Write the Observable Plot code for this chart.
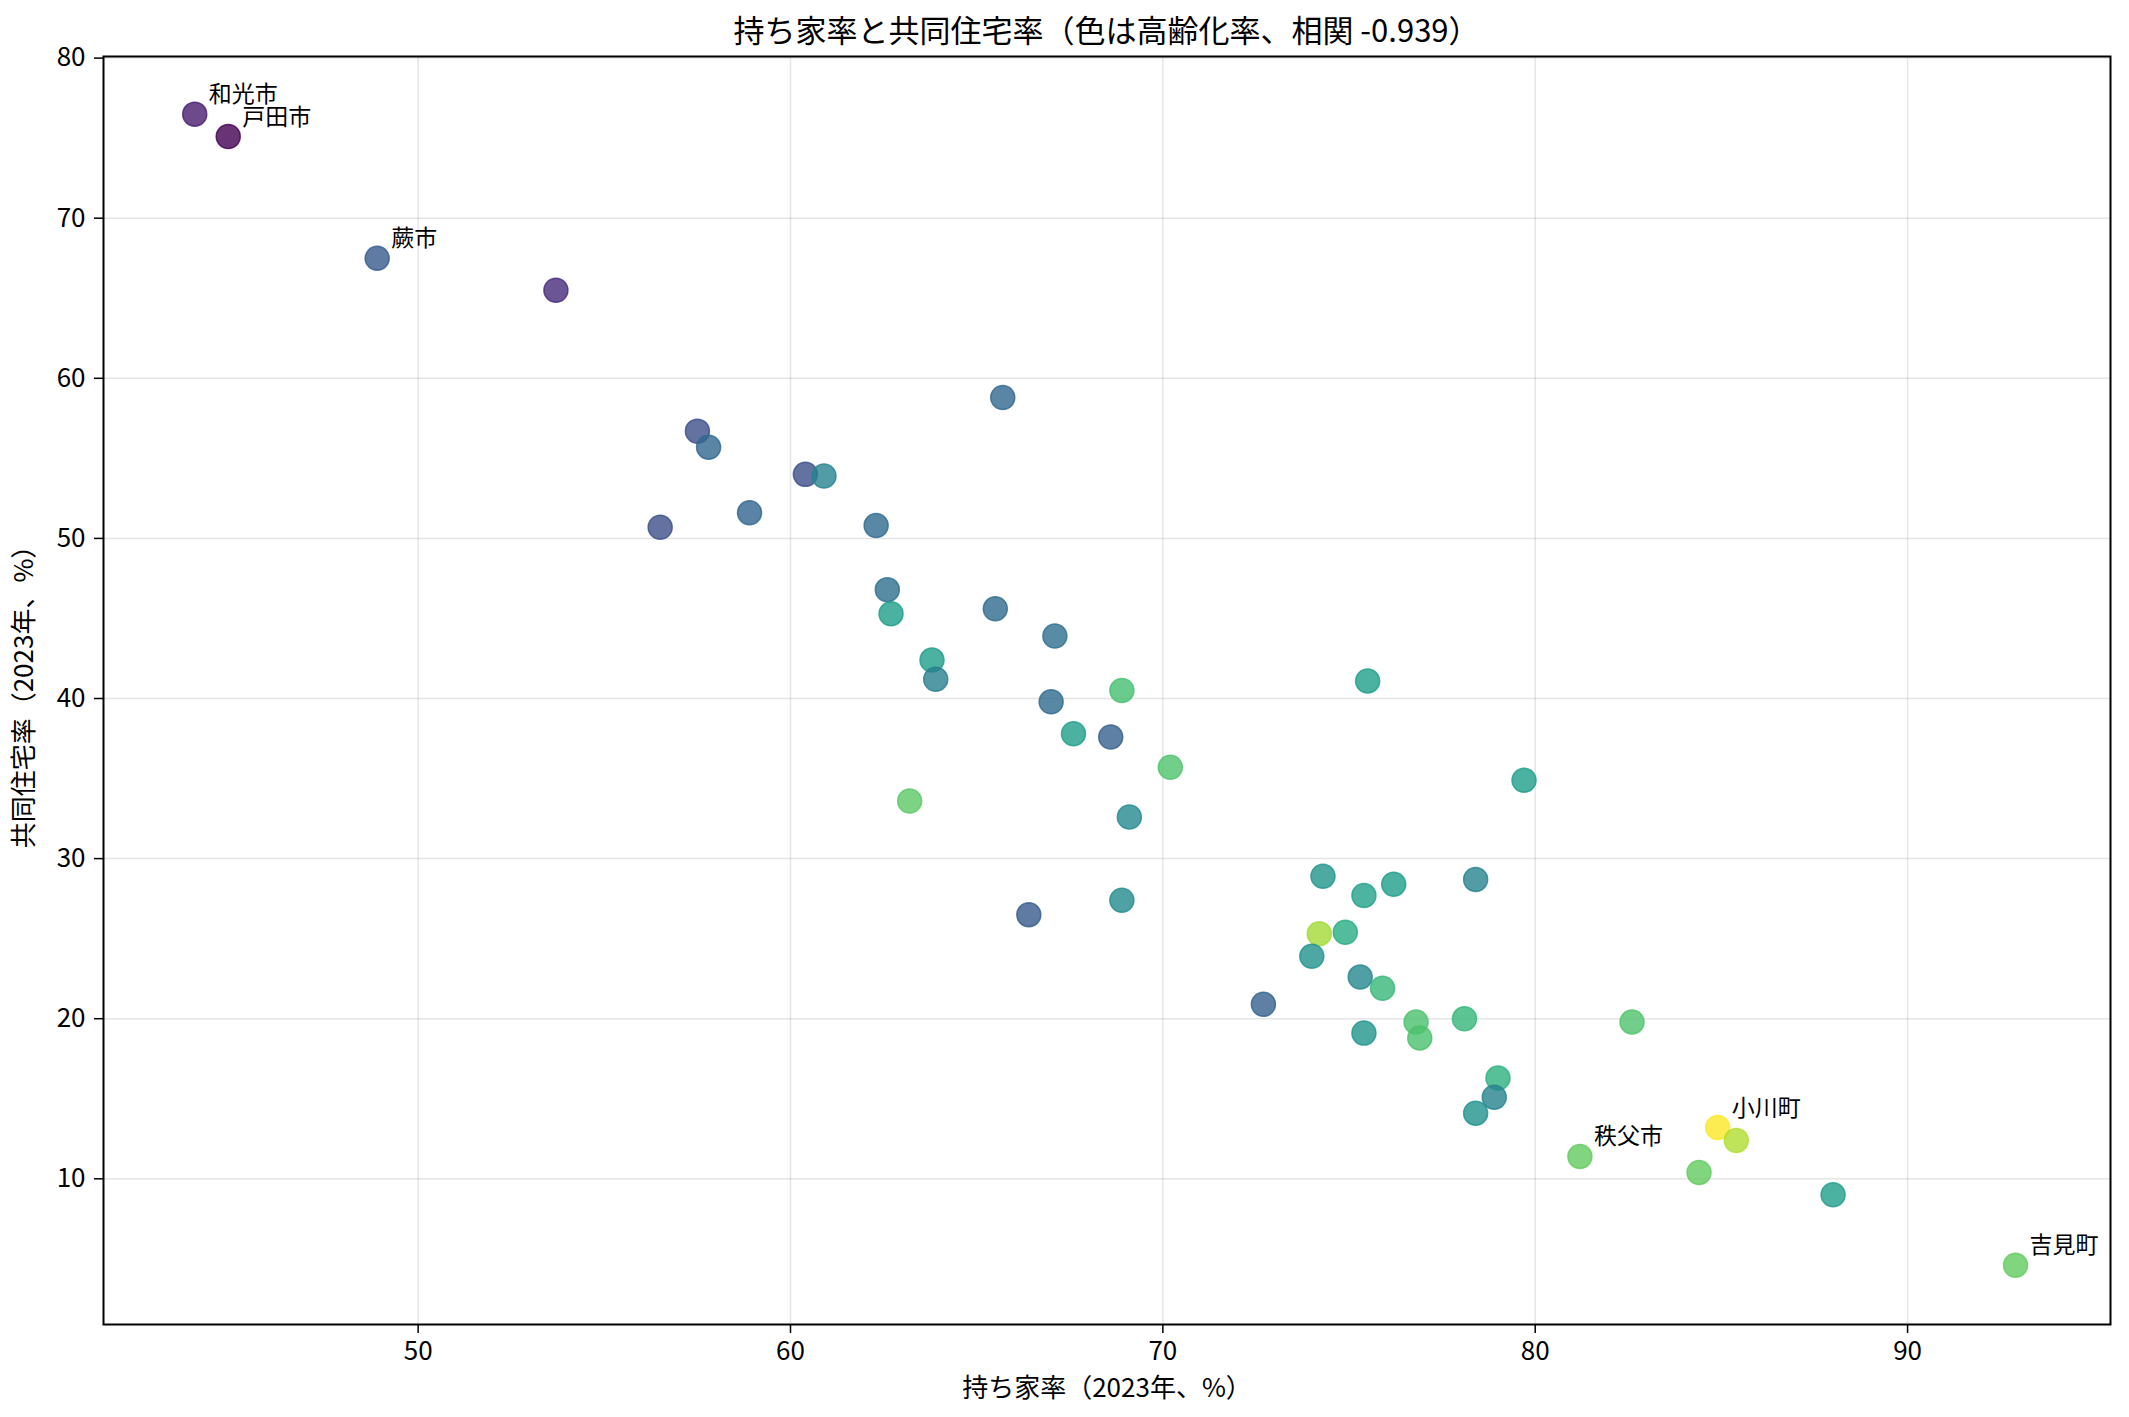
<!DOCTYPE html>
<html>
<head>
<meta charset="utf-8">
<script src="https://cdn.jsdelivr.net/npm/d3@7"></script>
<script src="https://cdn.jsdelivr.net/npm/@observablehq/plot@0.6"></script>
<style>
  html, body { margin: 0; padding: 0; background: #fff; }
  body { width: 2129px; height: 1417px; overflow: hidden; font-family: "Noto Sans CJK JP", "Noto Sans", sans-serif; }
  #title { height: 46px; box-sizing: border-box; padding: 10px 19px 0 103px; text-align: center; font-size: 31px; line-height: 38px; color: #000; white-space: nowrap; }
</style>
</head>
<body>
<div id="title">持ち家率と共同住宅率（色は高齢化率、相関 -0.939）</div>
<div id="chart"></div>
<script>
// 持ち家率（2023年、%）
const ownerRate = [44.0, 44.9, 48.9, 53.7, 57.5, 57.8, 56.5, 58.9, 60.4, 60.9,
  65.7, 62.3, 62.6, 62.7, 65.5, 67.1, 63.8, 63.9, 67.0, 68.9,
  75.5, 67.6, 68.6, 70.2, 63.2, 69.1, 79.7, 74.3, 75.4, 76.2,
  78.4, 66.4, 68.9, 74.2, 74.9, 74.0, 75.3, 75.9, 72.7, 76.8,
  76.9, 78.1, 75.4, 82.6, 79.0, 78.9, 78.4, 81.2, 84.9, 85.4,
  84.4, 88.0, 92.9];
// 共同住宅率（2023年、%）
const apartmentRate = [76.5, 75.1, 67.5, 65.5, 56.7, 55.7, 50.7, 51.6, 54.0, 53.9,
  58.8, 50.8, 46.8, 45.3, 45.6, 43.9, 42.4, 41.2, 39.8, 40.5,
  41.1, 37.8, 37.6, 35.7, 33.6, 32.6, 34.9, 28.9, 27.7, 28.4,
  28.7, 26.5, 27.4, 25.3, 25.4, 23.9, 22.6, 21.9, 20.9, 19.8,
  18.8, 20.0, 19.1, 19.8, 16.3, 15.1, 14.1, 11.4, 13.2, 12.4,
  10.4, 9.0, 4.6];
// 高齢化率（%）
const agingRate = [19.3, 17.5, 23.8, 20.2, 22.9, 24.9, 22.9, 24.7, 22.9, 27.6,
  24.9, 25.2, 25.6, 29.9, 25.2, 25.6, 29.9, 27.0, 25.2, 33.3,
  29.9, 29.9, 24.3, 33.7, 34.2, 28.1, 29.9, 29.2, 30.3, 29.9,
  27.6, 23.8, 28.3, 36.9, 31.5, 28.8, 27.9, 32.6, 24.3, 33.5,
  33.5, 32.4, 29.2, 33.7, 31.9, 27.4, 28.8, 34.6, 40.0, 37.3,
  34.6, 29.9, 34.6];
// 注記する市町村名
const labels = ["和光市", "戸田市", "蕨市", "", "", "", "", "", "", "",
  "", "", "", "", "", "", "", "", "", "",
  "", "", "", "", "", "", "", "", "", "",
  "", "", "", "", "", "", "", "", "", "",
  "", "", "", "", "", "", "", "秩父市", "小川町", "",
  "", "", "吉見町"];
const xTicks = [50, 60, 70, 80, 90];
const yTicks = [10, 20, 30, 40, 50, 60, 70, 80];

const data = ownerRate.map((x, i) => ({x, y: apartmentRate[i], aging: agingRate[i], name: labels[i]}));
const labeled = data.filter(d => d.name !== "");

const font = "Noto Sans CJK JP";
const chart = Plot.plot({
  width: 2129,
  height: 1371,
  marginLeft: 103,
  marginRight: 19,
  marginTop: 10,
  marginBottom: 93,
  style: {fontFamily: font, fontSize: "26px", color: "#000", background: "#fff", overflow: "visible"},
  x: {domain: [41.55, 95.45], label: null},
  y: {domain: [0.9, 80.1], label: null},
  color: {type: "linear", scheme: "viridis", domain: [d3.min(agingRate), d3.max(agingRate)]},
  marks: [
    Plot.gridX(xTicks, {stroke: "#000", strokeOpacity: 0.1, strokeWidth: 1.5}),
    Plot.gridY(yTicks, {stroke: "#000", strokeOpacity: 0.1, strokeWidth: 1.5}),
    Plot.axisX({ticks: xTicks, tickSize: 9, tickPadding: 8, fontSize: 26, label: null, strokeWidth: 1.5}),
    Plot.axisY({ticks: yTicks, tickSize: 9, tickPadding: 9, fontSize: 26, label: null, strokeWidth: 1.5}),
    Plot.dot(data, {x: "x", y: "y", r: 12, fill: "aging", stroke: "aging", fillOpacity: 0.8, strokeOpacity: 0.8, strokeWidth: 1.5}),
    Plot.text(labeled, {x: "x", y: "y", text: "name", dx: 14, dy: -12, textAnchor: "start", lineAnchor: "bottom", fontSize: 23, fill: "#000"}),
    Plot.frame({stroke: "#000", strokeWidth: 2}),
    Plot.text(["持ち家率（2023年、%）"], {frameAnchor: "bottom", dy: 72, fontSize: 26, fill: "#000"}),
    Plot.text(["共同住宅率（2023年、%）"], {frameAnchor: "left", dx: -79, rotate: -90, textAnchor: "middle", lineAnchor: "middle", fontSize: 26, fill: "#000"})
  ]
});
document.getElementById("chart").appendChild(chart);
</script>
</body>
</html>
